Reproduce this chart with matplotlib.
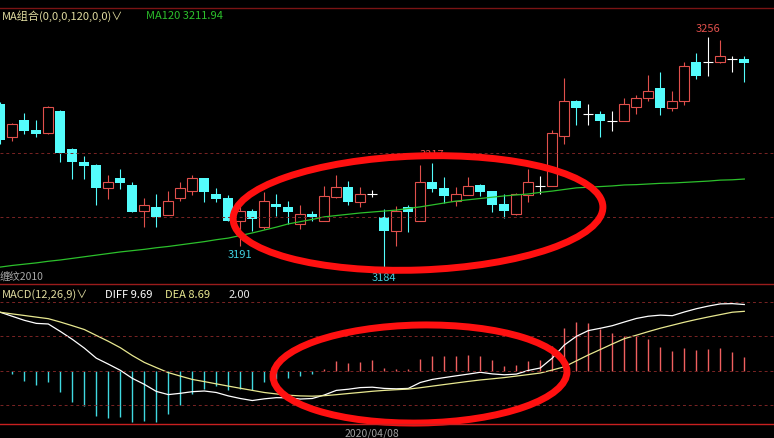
import matplotlib
matplotlib.use("Agg")
import matplotlib.pyplot as plt
from matplotlib.patches import Ellipse

plt.rcParams['font.family'] = ['Noto Sans CJK SC', 'DejaVu Sans']

# daily candles (open, high, low, close)
opens = [3235.2, 3225.1, 3230.3, 3227.3, 3226.1, 3233.2, 3221.3, 3217.3, 3216.3, 3209.1,
         3212.3, 3210.1, 3201.9, 3203.2, 3200.9, 3206.1, 3208.1, 3212.2, 3207.3, 3206.1,
         3198.9, 3202.0, 3197.0, 3204.2, 3203.3, 3198.0, 3201.1, 3199.0, 3206.4, 3209.5,
         3204.8, 3207.3, 3200.2, 3195.9, 3203.3, 3199.0, 3210.9, 3209.1, 3205.2, 3207.1,
         3210.1, 3208.1, 3204.2, 3201.1, 3207.0, 3209.9, 3209.9, 3225.2, 3236.3, 3232.0,
         3232.1, 3230.1, 3230.1, 3234.2, 3237.0, 3240.2, 3234.1, 3236.1, 3248.2, 3248.2,
         3248.2, 3249.2, 3249.2]
highs = [3235.9, 3229.2, 3232.5, 3230.3, 3234.5, 3233.4, 3221.5, 3219.2, 3216.5, 3213.2,
         3215.1, 3210.9, 3206.1, 3207.3, 3208.1, 3211.1, 3213.2, 3212.4, 3209.2, 3207.1,
         3204.2, 3202.6, 3207.9, 3207.3, 3205.2, 3203.9, 3202.1, 3209.9, 3213.2, 3211.3,
         3209.5, 3208.5, 3202.6, 3203.7, 3203.9, 3216.3, 3217.0, 3212.6, 3209.5, 3212.6,
         3210.3, 3208.3, 3207.3, 3207.5, 3215.1, 3213.0, 3227.3, 3243.3, 3236.5, 3235.2,
         3233.2, 3233.2, 3237.1, 3238.0, 3244.3, 3245.3, 3239.4, 3248.4, 3251.1, 3256.0,
         3255.1, 3250.1, 3250.1]
lows = [3222.8, 3223.8, 3225.9, 3225.1, 3226.0, 3217.1, 3212.0, 3212.0, 3203.9, 3205.7,
        3208.8, 3201.6, 3197.0, 3197.0, 3200.7, 3205.0, 3207.1, 3204.9, 3204.9, 3198.8,
        3191.0, 3195.8, 3196.4, 3200.6, 3198.0, 3196.4, 3199.0, 3198.8, 3206.2, 3203.9,
        3203.3, 3206.4, 3184.0, 3191.2, 3195.5, 3198.8, 3208.0, 3204.5, 3203.7, 3206.9,
        3206.8, 3201.8, 3199.7, 3200.9, 3204.9, 3207.3, 3209.7, 3222.8, 3228.7, 3228.7,
        3225.1, 3227.0, 3229.9, 3232.1, 3236.1, 3231.8, 3233.0, 3235.0, 3243.0, 3244.0,
        3248.0, 3245.1, 3242.0]
closes = [3224.1, 3229.0, 3227.0, 3226.0, 3234.3, 3219.9, 3217.1, 3216.1, 3209.1, 3210.9,
          3210.8, 3201.8, 3204.0, 3200.1, 3205.0, 3209.2, 3212.2, 3208.0, 3205.7, 3199.0,
          3202.0, 3199.5, 3205.1, 3203.3, 3201.7, 3201.1, 3200.2, 3206.8, 3209.5, 3204.8,
          3207.3, 3207.3, 3195.9, 3202.1, 3201.7, 3210.9, 3208.8, 3206.8, 3207.3, 3209.9,
          3208.0, 3204.0, 3202.1, 3207.3, 3210.9, 3209.9, 3226.2, 3236.3, 3234.1, 3232.0,
          3230.1, 3230.1, 3235.2, 3237.1, 3239.4, 3234.0, 3236.2, 3247.0, 3244.0, 3248.2,
          3250.1, 3249.2, 3248.1]
ma120 = [3184.6, 3185.1, 3185.5, 3185.9, 3186.4, 3186.8, 3187.3, 3187.8, 3188.3, 3188.8,
         3189.3, 3189.7, 3190.1, 3190.6, 3191.0, 3191.5, 3192.0, 3192.5, 3193.1, 3193.6,
         3194.4, 3195.2, 3196.1, 3197.0, 3198.0, 3198.7, 3199.4, 3200.2, 3200.6, 3201.0,
         3201.4, 3201.7, 3202.0, 3202.3, 3202.8, 3203.3, 3203.9, 3204.5, 3205.1, 3205.5,
         3205.9, 3206.3, 3206.7, 3207.0, 3207.3, 3207.8, 3208.2, 3208.7, 3209.2, 3209.4,
         3209.6, 3209.8, 3210.1, 3210.2, 3210.4, 3210.6, 3210.7, 3210.9, 3211.1, 3211.3,
         3211.6, 3211.7, 3211.94]

# MACD(12,26,9)
diff = [8.55, 7.96, 7.37, 6.92, 6.83, 5.74, 4.58, 3.29, 1.81, 0.94,
        0.03, -1.15, -2.03, -3.07, -3.54, -3.35, -3.11, -3.01, -3.23, -3.73,
        -4.11, -4.41, -4.16, -3.99, -4.01, -4.19, -4.11, -3.60, -2.92, -2.75,
        -2.51, -2.45, -2.63, -2.69, -2.63, -1.76, -1.31, -1.04, -0.78, -0.53,
        -0.26, -0.50, -0.63, -0.53, 0.01, 0.37, 1.82, 3.74, 5.01, 5.86,
        6.20, 6.58, 7.12, 7.64, 7.97, 8.13, 8.05, 8.59, 9.07, 9.46,
        9.78, 9.82, 9.69]
dea = [8.55, 8.31, 8.08, 7.84, 7.61, 7.12, 6.58, 6.02, 5.15, 4.29,
       3.35, 2.20, 1.19, 0.43, -0.31, -0.82, -1.31, -1.63, -1.96, -2.29,
       -2.61, -2.92, -3.23, -3.44, -3.63, -3.73, -3.77, -3.70, -3.55, -3.38,
       -3.22, -3.05, -2.92, -2.82, -2.73, -2.53, -2.29, -2.06, -1.83, -1.60,
       -1.39, -1.22, -1.04, -0.82, -0.60, -0.37, 0.07, 0.54, 1.41, 2.28,
       3.08, 3.89, 4.67, 5.18, 5.71, 6.21, 6.65, 7.09, 7.49, 7.86,
       8.21, 8.56, 8.69]
macd = [0.0, -0.51, -1.50, -2.13, -1.73, -3.20, -4.58, -5.26, -6.64, -6.98,
        -6.87, -7.52, -7.37, -7.61, -6.39, -5.02, -3.45, -2.72, -2.32, -2.82,
        -2.72, -2.82, -1.73, -1.25, -1.15, -0.76, -0.51, 0.15, 1.35, 1.06,
        1.20, 1.54, 0.32, 0.22, 0.22, 1.69, 2.17, 2.09, 2.09, 2.32,
        2.17, 1.54, 0.70, 0.85, 1.44, 1.59, 3.64, 6.20, 7.08, 6.93,
        6.09, 5.46, 5.11, 5.11, 4.63, 3.49, 2.82, 3.30, 3.05, 3.16,
        3.26, 2.67, 2.00]

price_grid = [3200, 3220]
macd_grid = [-5.1, 0, 5.05, 10.1]

RED = '#e0504c'
CYAN = '#54fcfc'
BG = 'black'

W, H = 774, 439
fig = plt.figure(figsize=(W / 100, H / 100), dpi=100, facecolor=BG)

# price panel
ax = fig.add_axes([0, 1 - 285 / H, 1, 275 / H], facecolor=BG)
n = len(opens)
x = list(range(n))
bw = 0.85
for i in x:
    o, h, l, c = opens[i], highs[i], lows[i], closes[i]
    if c > o:
        ax.vlines(i, c, h, color=RED, lw=0.8)
        ax.vlines(i, l, o, color=RED, lw=0.8)
        ax.bar(i, c - o, bottom=o, width=bw, facecolor=BG, edgecolor=RED, lw=0.8)
    elif c < o:
        ax.vlines(i, l, h, color=CYAN, lw=0.8)
        ax.bar(i, o - c, bottom=c, width=bw, color=CYAN, lw=0)
    else:
        ax.vlines(i, l, h, color='white', lw=0.8)
        ax.hlines(o, i - bw / 2, i + bw / 2, color='white', lw=0.8)

ax.plot(x, ma120, color='#2cc02c', lw=0.9)
for g in price_grid:
    ax.axhline(g, color='#7a2424', lw=0.7, ls=(0, (3, 3)))

lab = dict(fontsize=8, ha='center')
ax.text(59, 3256 + 1.2, '3256', color=RED, va='bottom', **lab)
ax.text(36, 3217 + 1.2, '3217', color=RED, va='bottom', **lab)
ax.text(20, 3191 - 0.8, '3191', color='#40d0e0', va='top', **lab)
ax.text(32, 3184 - 0.8, '3184', color='#40d0e0', va='top', **lab)

ax.set_xlim(-0.025, W / 12 - 0.025)
ax.set_ylim(3184 - 15 / 3.22, 3184 + 260 / 3.22)
ax.axis('off')

# MACD panel
mx = fig.add_axes([0, 1 - 425 / H, 1, 137 / H], facecolor=BG)
for i in x:
    v = macd[i]
    if v == 0:
        continue
    mx.vlines(i, 0, v, color='#f06060' if v > 0 else '#40d8e0', lw=1.0)
mx.plot(x, diff, color='white', lw=0.9)
mx.plot(x, dea, color='#e8e890', lw=0.9)
for g in macd_grid:
    mx.axhline(g, color='#7a2424', lw=0.7, ls=(0, (3, 3)))
mx.set_xlim(-0.025, W / 12 - 0.025)
mx.set_ylim(-53.5 / 6.81, 83.5 / 6.81)
mx.axis('off')

# overlay in pixel coordinates: separators, headers, marker ellipses
ov = fig.add_axes([0, 0, 1, 1], facecolor='none')
ov.set_xlim(0, W)
ov.set_ylim(H, 0)
ov.axis('off')
ov.axhline(9, color='#7a1414', lw=1.0)
ov.axhline(285, color='#9a1c1c', lw=1.0)
ov.axhline(425.5, color='#c82020', lw=1.0)

ov.text(2, 16, 'MA组合(0,0,0,120,0,0)∨', color='#e0dca0', fontsize=8, va='center')
ov.text(146, 16, 'MA120 3211.94', color='#2cc02c', fontsize=8, va='center')
ov.text(0, 277, '缠纹2010', color='#a8a8a8', fontsize=7.5, va='center')
ov.text(2, 295, 'MACD(12,26,9)∨', color='#e0dca0', fontsize=8, va='center')
ov.text(105, 295, 'DIFF 9.69', color='white', fontsize=8, va='center')
ov.text(165, 295, 'DEA 8.69', color='#e8e890', fontsize=8, va='center')
ov.text(229, 295, '2.00', color='#e8e8e8', fontsize=8, va='center')
ov.text(372, 434, '2020/04/08', color='#a0a0a0', fontsize=7.5, ha='center', va='center')

ov.add_patch(Ellipse((418, 214), 370, 114, angle=-2, fill=False, ec='#ff1010', lw=5))
ov.add_patch(Ellipse((420, 375), 294, 98, angle=-1, fill=False, ec='#ff1010', lw=5))

fig.savefig('out.png', dpi=100, facecolor=BG)
